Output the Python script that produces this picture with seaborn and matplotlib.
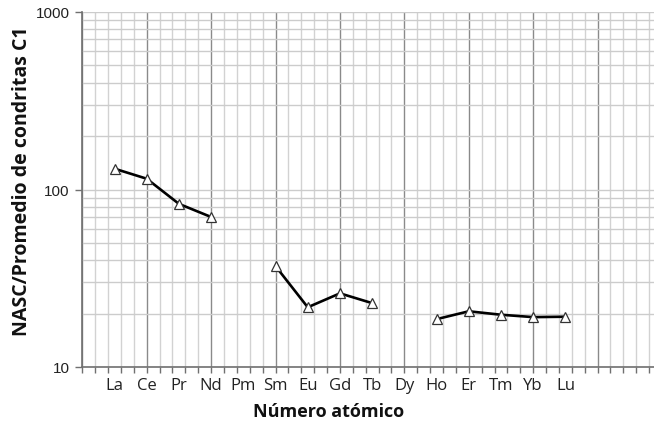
import numpy as np
import pandas as pd
import seaborn as sns
import matplotlib.pyplot as plt
from matplotlib.ticker import MultipleLocator, LogLocator, NullFormatter, FixedLocator, FixedFormatter, FuncFormatter

# datos: numero atomico, elemento y valor normalizado
elementos = ["La", "Ce", "Pr", "Nd", "Pm", "Sm", "Eu", "Gd", "Tb", "Dy", "Ho", "Er", "Tm", "Yb", "Lu"]
numero = [57, 58, 59, 60, 61, 62, 63, 64, 65, 66, 67, 68, 69, 70, 71]
valores = [131, 115, 83, 70, np.nan, 37, 21.7, 26, 22.9, np.nan, 18.6, 20.6, 19.7, 19.1, 19.2]
grupo = [1, 1, 1, 1, 0, 2, 2, 2, 2, 0, 3, 3, 3, 3, 3]

df = pd.DataFrame({"numero": numero, "valor": valores, "grupo": grupo})
df = df.dropna()

sns.set_style("white")
plt.rcParams['font.family'] = ['Open Sans', 'DejaVu Sans']

fig = plt.figure(figsize=(6.54, 4.27), dpi=100)
ax = fig.add_axes([82.3/654, 1-368/427, (662-82.3)/654, (368-13)/427])

sns.lineplot(data=df, x="numero", y="valor", units="grupo", estimator=None,
             color="black", lw=1.9, marker="^", markersize=6.5,
             markerfacecolor="white", markeredgecolor="#333333", markeredgewidth=0.9,
             ax=ax, legend=False)

ax.set_yscale("log")
ax.set_ylim(10, 1000)
ax.set_xlim(56, 74)

# rejilla
ax.xaxis.set_major_locator(MultipleLocator(2))
ax.xaxis.set_minor_locator(MultipleLocator(0.4))
ax.yaxis.set_major_locator(LogLocator(base=10))
ax.yaxis.set_major_formatter(FuncFormatter(lambda v, p: "%d" % round(v)))
ax.yaxis.set_minor_locator(LogLocator(base=10, subs=np.arange(2, 10)))
ax.yaxis.set_minor_formatter(NullFormatter())
ax.set_axisbelow(True)
ax.grid(which="major", axis="x", color="#8a8a8a", lw=1.0)
ax.grid(which="minor", axis="x", color="#d2d2d2", lw=1.0)
ax.grid(which="both", axis="y", color="#cccccc", lw=1.0)

ax.set_xticklabels([])
ax.tick_params(axis="x", which="both", direction="out", length=4, width=1, color="#707070",
               bottom=True)
ax.tick_params(axis="y", which="major", direction="out", length=5, width=1, color="#707070",
               left=True, labelsize=11, pad=4)
ax.tick_params(axis="y", which="minor", length=0)
for lab in ax.get_yticklabels():
    lab.set_fontfamily("Liberation Sans")
    lab.set_color("#222222")

# etiquetas de los elementos
sec = ax.secondary_xaxis("bottom")
sec.xaxis.set_major_locator(FixedLocator(numero))
sec.xaxis.set_major_formatter(FixedFormatter(elementos))
sec.tick_params(length=0, labelsize=12, pad=7, labelcolor="#222222")
sec.spines["bottom"].set_visible(False)

for s in ["top", "right"]:
    ax.spines[s].set_visible(False)
for s in ["left", "bottom"]:
    ax.spines[s].set_color("#707070")
    ax.spines[s].set_linewidth(1.2)

ax.set_xlabel("")
ax.set_ylabel("")
fig.text(0.502, 1-412/427, "Número atómico", ha="center", va="center",
         fontsize=13, fontweight="bold", color="#111111")
fig.text(22/654, 1-181/427, "NASC/Promedio de condritas C1", ha="center", va="center",
         rotation=90, fontsize=14, fontweight="bold", color="#111111")

fig.savefig("out.png", dpi=100)
